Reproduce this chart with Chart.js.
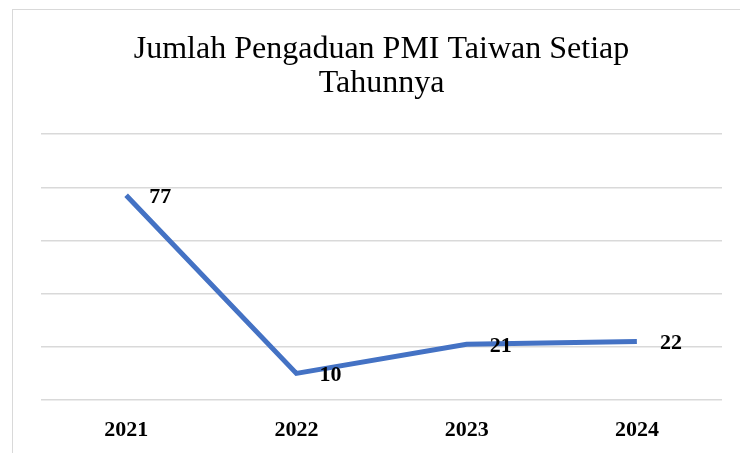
<!DOCTYPE html>
<html>
<head>
<meta charset="utf-8">
<script src="https://cdn.jsdelivr.net/npm/chart.js@4.4.1/dist/chart.umd.min.js"></script>
<style>
  html, body { margin: 0; padding: 0; background: #ffffff; }
  #wrap { position: relative; width: 740px; height: 453px; }
  #frame { position: absolute; left: 12px; top: 9px; width: 740px; height: 460px; border: 1px solid #d9d9d9; box-sizing: border-box; pointer-events: none; }
  canvas { display: block; }
</style>
</head>
<body>
<div id="wrap">
  <canvas id="c" width="740" height="453"></canvas>
  <div id="frame"></div>
</div>
<script>
const titleLines = ["Jumlah Pengaduan PMI Taiwan Setiap", "Tahunnya"];
const categories = ["2021", "2022", "2023", "2024"];
const complaints = [77, 10, 21, 22];
const yMin = 0, yMax = 100, yStep = 20;

const valueLabels = {
  id: 'valueLabels',
  afterDatasetsDraw(chart) {
    const ctx = chart.ctx;
    const meta = chart.getDatasetMeta(0);
    ctx.save();
    ctx.font = 'bold 22px "Liberation Serif", "Times New Roman", serif';
    ctx.fillStyle = '#000000';
    ctx.textAlign = 'left';
    ctx.textBaseline = 'middle';
    meta.data.forEach((pt, i) => {
      ctx.fillText(String(chart.data.datasets[0].data[i]), pt.x + 23, pt.y + 2);
    });
    ctx.restore();
  }
};

new Chart(document.getElementById('c'), {
  type: 'line',
  data: {
    labels: categories,
    datasets: [{
      data: complaints,
      borderColor: '#4472C4',
      borderWidth: 5,
      pointRadius: 0,
      pointHoverRadius: 0,
      tension: 0,
      fill: false
    }]
  },
  options: {
    responsive: false,
    animation: false,
    events: [],
    layout: { padding: { left: 41, right: 18, top: 0, bottom: 0 } },
    plugins: {
      legend: { display: false },
      tooltip: { enabled: false },
      title: {
        display: true,
        text: titleLines,
        color: '#000000',
        font: { family: '"Liberation Serif", "Times New Roman", serif', size: 32, weight: 'normal', lineHeight: 1.05 },
        padding: { top: 33, bottom: 34 }
      }
    },
    scales: {
      x: {
        offset: true,
        grid: { display: false, drawTicks: false },
        border: { display: false },
        ticks: {
          color: '#000000',
          padding: 18,
          font: { family: '"Liberation Serif", "Times New Roman", serif', size: 22, weight: 'bold', lineHeight: 1.1 }
        },
        afterFit(scale) { scale.height = 53; }
      },
      y: {
        min: yMin,
        max: yMax,
        ticks: { display: false, stepSize: yStep },
        grid: { color: '#d9d9d9', lineWidth: 1.5, drawTicks: false },
        border: { display: false },
        afterFit(scale) { scale.width = 0; }
      }
    }
  },
  plugins: [valueLabels]
});
</script>
</body>
</html>
